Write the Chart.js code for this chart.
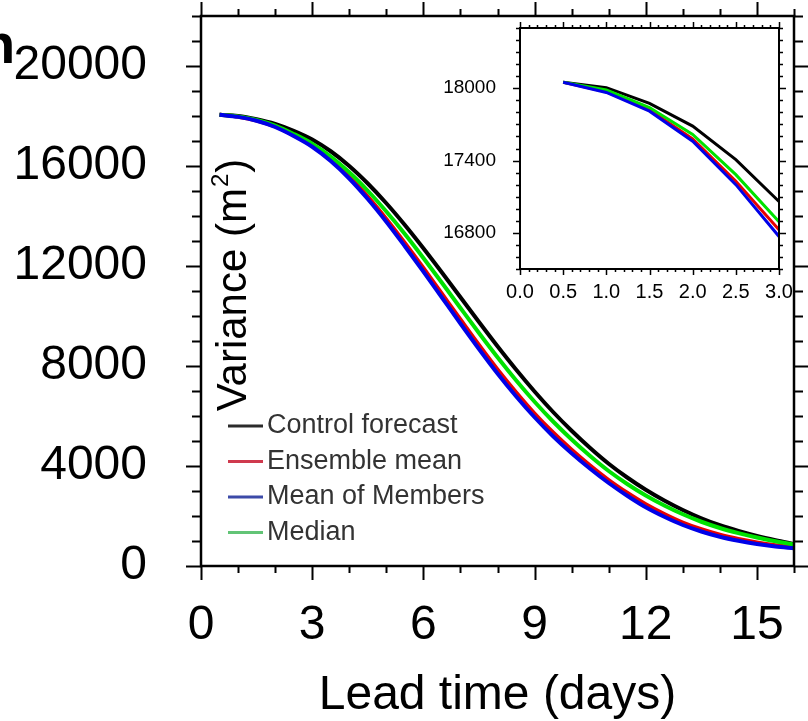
<!DOCTYPE html>
<html>
<head>
<meta charset="utf-8">
<script src="https://cdn.jsdelivr.net/npm/chart.js@4.4.1/dist/chart.umd.min.js"></script>
<style>
  html, body { margin: 0; padding: 0; background: #fff; }
  #wrap { position: relative; width: 808px; height: 721px; overflow: hidden; background: #fff; }
  #mainChart { position: absolute; left: 0; top: 0; }
  #insetChart { position: absolute; left: 430px; top: 0; }
</style>
</head>
<body>
<div id="wrap">
  <canvas id="mainChart" width="808" height="721"></canvas>
  <canvas id="insetChart" width="378" height="330"></canvas>
</div>
<script>
// lead time in days, one value every half day
const leadDays = [0.5, 1, 1.5, 2, 2.5, 3, 3.5, 4, 4.5, 5, 5.5, 6, 6.5, 7, 7.5, 8,
                  8.5, 9, 9.5, 10, 10.5, 11, 11.5, 12, 12.5, 13, 13.5, 14, 14.5, 15, 15.5, 16];

const controlForecast = [18050, 18005, 17875, 17686, 17408, 17060, 16590, 16000, 15300, 14510, 13640, 12710,
                         11740, 10750, 9760, 8790, 7860, 6980, 6160, 5410, 4720, 4090, 3540, 3050,
                         2620, 2240, 1910, 1630, 1400, 1200, 1030, 880];
const ensembleMean = [18050, 17970, 17820, 17580, 17228, 16825, 16260, 15575, 14775, 13880, 12920, 11920,
                      10890, 9860, 8840, 7860, 6950, 6100, 5340, 4650, 4020, 3440, 2930, 2470,
                      2080, 1740, 1470, 1250, 1080, 940, 830, 750];
const meanOfMembers = [18050, 17965, 17810, 17560, 17200, 16770, 16200, 15500, 14680, 13770, 12790, 11780,
                       10740, 9700, 8680, 7700, 6790, 5950, 5190, 4510, 3890, 3320, 2810, 2350,
                       1970, 1640, 1380, 1170, 1010, 880, 780, 710];
const median = [18050, 17985, 17840, 17617, 17283, 16893, 16380, 15750, 15010, 14180, 13280, 12320,
                11330, 10320, 9320, 8350, 7430, 6570, 5780, 5060, 4400, 3800, 3280, 2820,
                2420, 2070, 1770, 1520, 1315, 1140, 990, 855];

const seriesNames = ['Control forecast', 'Ensemble mean', 'Mean of Members', 'Median'];
const seriesColors = ['#000000', 'rgb(232,0,0)', 'rgb(0,0,232)', 'rgb(0,226,0)'];
const legendColors = ['#2b2b2b', '#cf3a4e', '#3c4aa8', '#62c476'];

const xTickLabels = [0, 3, 6, 9, 12, 15];
const yTickLabels = [0, 4000, 8000, 12000, 16000, 20000];
const insetXTickLabels = [0, 0.5, 1, 1.5, 2, 2.5, 3];
const insetYTickLabels = [16800, 17400, 18000];
const insetCount = 6; // days 0.5 .. 3.0 shown in the zoom box

Chart.defaults.font.family = '"Liberation Sans", Arial, Helvetica, sans-serif';
Chart.defaults.color = '#000';

function pts(values, n) {
  return values.slice(0, n).map((v, i) => ({ x: leadDays[i], y: v }));
}

function isMultiple(v, step) {
  const r = v / step;
  return Math.abs(r - Math.round(r)) < 1e-6;
}

// frame + outward ticks on all four sides, minor and major
const frameTicks = {
  id: 'frameTicks',
  afterDraw(chart, args, o) {
    const { ctx, chartArea: a, scales: { x, y } } = chart;
    ctx.save();
    ctx.strokeStyle = '#000';
    ctx.lineWidth = o.tickWidth;
    ctx.beginPath();
    const nx = Math.round((x.max - x.min) / o.xMinor);
    for (let i = 0; i <= nx; i++) {
      const v = x.min + i * o.xMinor;
      const px = Math.round(x.getPixelForValue(v)) + 0.5;
      const len = isMultiple(v, o.xMajor) ? o.xMajorLen : o.xMinorLen;
      ctx.moveTo(px, a.top); ctx.lineTo(px, a.top - len);
      ctx.moveTo(px, a.bottom); ctx.lineTo(px, a.bottom + len);
    }
    const ny = Math.round((y.max - y.min) / o.yMinor);
    for (let i = 0; i <= ny; i++) {
      const v = y.min + i * o.yMinor;
      const py = Math.round(y.getPixelForValue(v)) + 0.5;
      const len = isMultiple(v, o.yMajor) ? o.yMajorLen : o.yMinorLen;
      ctx.moveTo(a.left, py); ctx.lineTo(a.left - len, py);
      ctx.moveTo(a.right, py); ctx.lineTo(a.right + len, py);
    }
    ctx.stroke();
    ctx.lineWidth = o.frameWidth;
    ctx.strokeRect(a.left, a.top, a.right - a.left, a.bottom - a.top);
    ctx.restore();
  }
};

// y title inside the plot, legend box, and the clipped panel letter
const mainDecor = {
  id: 'mainDecor',
  afterDraw(chart) {
    const ctx = chart.ctx;
    ctx.save();
    // y axis title
    ctx.translate(246, 286);
    ctx.rotate(-Math.PI / 2);
    ctx.fillStyle = '#000';
    ctx.textBaseline = 'alphabetic';
    ctx.font = '42px "Liberation Sans", Arial, sans-serif';
    const t1 = 'Variance (m';
    const w1 = ctx.measureText(t1).width;
    ctx.font = '24px "Liberation Sans", Arial, sans-serif';
    const w2 = ctx.measureText('2').width;
    ctx.font = '42px "Liberation Sans", Arial, sans-serif';
    const w3 = ctx.measureText(')').width;
    let sx = -(w1 + w2 + w3) / 2;
    ctx.textAlign = 'left';
    ctx.fillText(t1, sx, 0);
    ctx.font = '24px "Liberation Sans", Arial, sans-serif';
    ctx.fillText('2', sx + w1 + 1, -18);
    ctx.font = '42px "Liberation Sans", Arial, sans-serif';
    ctx.fillText(')', sx + w1 + w2 + 2, 0);
    ctx.restore();

    // legend
    ctx.save();
    ctx.font = '27px "Liberation Sans", Arial, sans-serif';
    ctx.textBaseline = 'middle';
    ctx.textAlign = 'left';
    seriesNames.forEach((name, i) => {
      const yy = 426 + i * 35.5;
      ctx.strokeStyle = legendColors[i];
      ctx.lineWidth = 3;
      ctx.beginPath();
      ctx.moveTo(228, yy);
      ctx.lineTo(263, yy);
      ctx.stroke();
      ctx.fillStyle = '#333';
      ctx.fillText(name, 267, yy);
    });
    ctx.restore();

    // cut-off letter at the left edge
    ctx.save();
    ctx.font = 'bold 56px "Liberation Sans", Arial, sans-serif';
    ctx.fillStyle = '#000';
    ctx.textBaseline = 'alphabetic';
    ctx.fillText('n', -19, 63);
    ctx.restore();
  }
};

const mainData = [controlForecast, ensembleMean, meanOfMembers, median];
const drawOrder = [4, 3, 1, 2]; // blue on top, then green, red, black

new Chart(document.getElementById('mainChart'), {
  type: 'line',
  data: {
    datasets: mainData.map((vals, i) => ({
      label: seriesNames[i],
      data: pts(vals, leadDays.length),
      borderColor: seriesColors[i],
      borderWidth: 4,
      pointRadius: 0,
      cubicInterpolationMode: 'monotone',
      fill: false,
      order: drawOrder[i]
    }))
  },
  options: {
    responsive: false,
    animation: false,
    devicePixelRatio: 1,
    layout: { padding: { top: 16, right: 14, left: 0, bottom: 0 } },
    plugins: {
      legend: { display: false },
      tooltip: { enabled: false },
      frameTicks: {
        tickWidth: 2, frameWidth: 2.5,
        xMinor: 1, xMajor: 3, xMajorLen: 14, xMinorLen: 7,
        yMinor: 1000, yMajor: 4000, yMajorLen: 15, yMinorLen: 9
      }
    },
    scales: {
      x: {
        type: 'linear', min: 0, max: 16,
        afterBuildTicks: s => { s.ticks = xTickLabels.map(v => ({ value: v })); },
        afterFit: s => { s.height = 155; s.paddingLeft = 0; s.paddingRight = 0; },
        grid: { display: false, drawTicks: false },
        border: { display: false },
        ticks: { font: { size: 48 }, color: '#000', padding: 31, maxRotation: 0, autoSkip: false,
                 callback: v => String(v) },
        title: {
          display: true, text: 'Lead time (days)', color: '#000',
          font: { size: 48, lineHeight: 1 }, padding: { top: 0, bottom: 1 }
        }
      },
      y: {
        min: 0, max: 22000,
        afterBuildTicks: s => { s.ticks = yTickLabels.map(v => ({ value: v })); },
        afterFit: s => { s.width = 201; s.paddingTop = 0; s.paddingBottom = 0; },
        grid: { display: false, drawTicks: false },
        border: { display: false },
        ticks: { font: { size: 48 }, color: '#000', padding: 54, autoSkip: false,
                 callback: v => String(v) }
      }
    }
  },
  plugins: [frameTicks, mainDecor]
});

new Chart(document.getElementById('insetChart'), {
  type: 'line',
  data: {
    datasets: mainData.map((vals, i) => ({
      label: seriesNames[i],
      data: pts(vals, insetCount),
      borderColor: seriesColors[i],
      borderWidth: 3,
      pointRadius: 0,
      tension: 0,
      fill: false,
      order: drawOrder[i]
    }))
  },
  options: {
    responsive: false,
    animation: false,
    devicePixelRatio: 1,
    layout: { padding: { top: 28, right: 29, left: 0, bottom: 0 } },
    plugins: {
      legend: { display: false },
      tooltip: { enabled: false },
      frameTicks: {
        tickWidth: 1.5, frameWidth: 2,
        xMinor: 0.1, xMajor: 0.5, xMajorLen: 6, xMinorLen: 3,
        yMinor: 100, yMajor: 600, yMajorLen: 7, yMinorLen: 4
      }
    },
    scales: {
      x: {
        type: 'linear', min: 0, max: 3,
        afterBuildTicks: s => { s.ticks = insetXTickLabels.map(v => ({ value: v })); },
        afterFit: s => { s.height = 61; s.paddingLeft = 0; s.paddingRight = 0; },
        grid: { display: false, drawTicks: false },
        border: { display: false },
        ticks: {
          font: { size: 20 }, color: '#000', padding: 11, maxRotation: 0, autoSkip: false,
          callback: v => Number(v).toFixed(1)
        }
      },
      y: {
        min: 16500, max: 18500,
        afterBuildTicks: s => { s.ticks = insetYTickLabels.map(v => ({ value: v })); },
        afterFit: s => { s.width = 90; s.paddingTop = 0; s.paddingBottom = 0; },
        grid: { display: false, drawTicks: false },
        border: { display: false },
        ticks: { font: { size: 19 }, color: '#000', padding: 24, autoSkip: false, callback: v => String(v) }
      }
    }
  },
  plugins: [frameTicks]
});
</script>
</body>
</html>
